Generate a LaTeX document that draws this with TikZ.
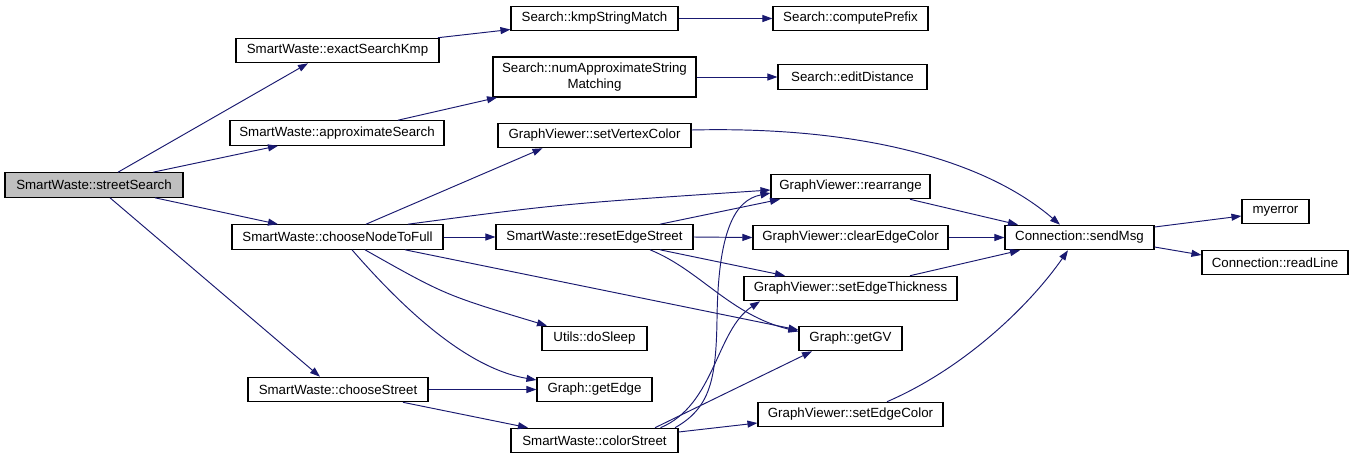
\documentclass[tikz,border=0pt]{standalone}
\usepackage{fontspec}
\setmainfont{Liberation Sans}
\usetikzlibrary{arrows.meta}
\definecolor{edgeblue}{RGB}{25,25,112}
\definecolor{rootgray}{RGB}{191,191,191}
\begin{document}
\begin{tikzpicture}[x=1pt,y=-1pt,
  box/.style={draw=black,line width=1.1pt,fill=white,inner sep=0pt,minimum height=24.5pt,
    font=\fontsize{13.3}{15.5}\selectfont,text=black,align=center},
  edge/.style={draw=edgeblue,line width=0.95pt,-{Triangle[length=10pt,width=7pt]}}]
\fill[white] (0,0) rectangle (1353,459);
\useasboundingbox (0,0) rectangle (1353,459);
% nodes
\node[box,fill=rootgray,minimum width=178pt] (ss) at (94,185) {SmartWaste::streetSearch};
\node[box,minimum width=203pt] (esk) at (337.5,50.5) {SmartWaste::exactSearchKmp};
\node[box,minimum width=167pt] (kmp) at (594.5,18.5) {Search::kmpStringMatch};
\node[box,minimum width=155pt] (cp) at (850.5,18.5) {Search::computePrefix};
\node[box,minimum width=203pt,minimum height=40pt] (na) at (594.5,77) {Search::numApproximateString\\Matching};
\node[box,minimum width=149pt] (ed) at (852.5,77) {Search::editDistance};
\node[box,minimum width=214pt] (as) at (337,133) {SmartWaste::approximateSearch};
\node[box,minimum width=193pt] (svc) at (594.5,135.5) {GraphViewer::setVertexColor};
\node[box,minimum width=159pt] (ra) at (850.5,186.5) {GraphViewer::rearrange};
\node[box,minimum width=211pt] (cn) at (337.5,237) {SmartWaste::chooseNodeToFull};
\node[box,minimum width=197pt] (res) at (594.5,237) {SmartWaste::resetEdgeStreet};
\node[box,minimum width=195pt] (cec) at (850.5,237.5) {GraphViewer::clearEdgeColor};
\node[box,minimum width=149pt] (sm) at (1079.5,237.5) {Connection::sendMsg};
\node[box,minimum width=67pt] (me) at (1275.5,211.5) {myerror};
\node[box,minimum width=146pt] (rl) at (1275,262.5) {Connection::readLine};
\node[box,minimum width=213pt] (set) at (850.5,288.5) {GraphViewer::setEdgeThickness};
\node[box,minimum width=105pt] (ds) at (594.5,338.5) {Utils::doSleep};
\node[box,minimum width=103pt] (gv) at (850.5,338.5) {Graph::getGV};
\node[box,minimum width=180pt] (cs) at (338,389.5) {SmartWaste::chooseStreet};
\node[box,minimum width=115pt] (ge) at (594.5,389.5) {Graph::getEdge};
\node[box,minimum width=185pt] (sec) at (850.5,414.5) {GraphViewer::setEdgeColor};
\node[box,minimum width=167pt] (cst) at (594.5,440.5) {SmartWaste::colorStreet};
% edges from streetSearch
\draw[edge] ([xshift=24pt]ss.north) -- ([xshift=-29.5pt]esk.south);
\draw[edge] ([xshift=59pt]ss.north) -- ([xshift=-59pt]as.south);
\draw[edge] ([xshift=61pt]ss.south) -- ([xshift=-59.5pt]cn.north);
\draw[edge] ([xshift=16pt]ss.south) -- ([xshift=-18pt]cs.north);
% search branch
\draw[edge] ([xshift=100.5pt]esk.north) -- ([yshift=-11pt]kmp.west);
\draw[edge] (kmp.east) -- (cp.west);
\draw[edge] ([xshift=61pt]as.north) -- ([xshift=-97.5pt]na.south);
\draw[edge] (na.east) -- (ed.west);
% chooseNodeToFull
\draw[edge] ([xshift=28.5pt]cn.north) -- ([xshift=-52pt]svc.south);
\draw[edge] ([xshift=70.5pt]cn.north) .. controls (560,204) .. ([yshift=-3.5pt]ra.west);
\draw[edge] (cn.east) -- (res.west);
\draw[edge] ([xshift=67.5pt]cn.south) -- ([yshift=8.5pt]gv.west);
\draw[edge] ([xshift=27.5pt]cn.south) .. controls (445,295) .. ([xshift=-47.5pt]ds.north);
\draw[edge] ([xshift=14.5pt]cn.south) .. controls (400,305) and (465,368) .. ([yshift=9.5pt]ge.west);
% resetEdgeStreet
\draw[edge] ([xshift=65.5pt]res.north) -- ([xshift=-70.5pt]ra.south);
\draw[edge] (res.east) -- (cec.west);
\draw[edge] ([xshift=65.5pt]res.south) -- ([xshift=-65.5pt]set.north);
\draw[edge] ([xshift=55.5pt]res.south) .. controls (700,270) and (730,315) .. ([yshift=7pt]gv.west);
% chooseStreet
\draw[edge] (cs.east) -- (ge.west);
\draw[edge] ([xshift=65pt]cs.south) -- ([xshift=-66.5pt]cst.north);
% colorStreet
\draw[edge] ([xshift=80.5pt]cst.north) .. controls (710,408) and (716,380) .. (717,320)
   .. controls (718,230) and (735,200) .. ([yshift=-6.5pt]ra.west);
\draw[edge] ([xshift=66pt]cst.north) .. controls (715,405) and (716,330) .. ([xshift=-90.5pt]set.south);
\draw[edge] ([xshift=60.5pt]cst.north) -- ([xshift=-38.5pt]gv.south);
\draw[edge] ([yshift=8.5pt]cst.east) -- ([yshift=-8.5pt]sec.west);
% into sendMsg
\draw[edge] ([yshift=5.5pt]svc.east) .. controls (860,126) and (985,160) .. ([xshift=-19.5pt]sm.north);
\draw[edge] ([xshift=59.5pt]ra.south) -- ([xshift=-61.5pt]sm.north);
\draw[edge] (cec.east) -- (sm.west);
\draw[edge] ([xshift=59.5pt]set.north) -- ([xshift=-59.5pt]sm.south);
\draw[edge] ([xshift=36.5pt]sec.north) .. controls (965,368) and (1030,305) .. ([xshift=-11.5pt]sm.south);
% out of sendMsg
\draw[edge] ([yshift=10.5pt]sm.east) -- ([yshift=-4.5pt]me.west);
\draw[edge] ([yshift=-9.5pt]sm.east) -- ([yshift=7.5pt]rl.west);
\end{tikzpicture}
\end{document}
